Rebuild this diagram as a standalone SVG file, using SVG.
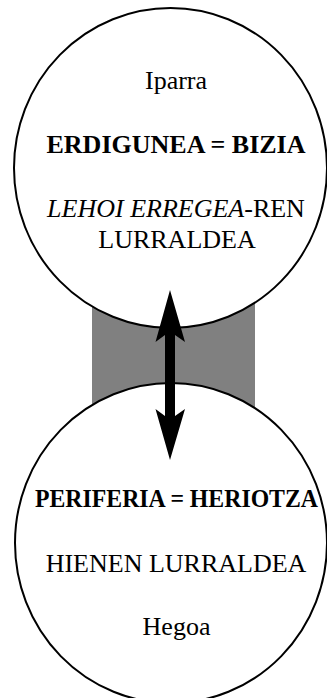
<svg xmlns="http://www.w3.org/2000/svg" width="327" height="698" viewBox="0 0 327 698">
<style>
.c{fill:#fff;stroke:#000;stroke-width:2}
text{font-family:'Liberation Serif','Times New Roman',serif;font-size:26px;fill:#000;text-anchor:middle}
.b{font-weight:bold}
.i{font-style:italic}
</style>
<rect id="band" x="92" y="300" width="163" height="112" fill="#808080"/>
<g id="north">
<ellipse class="c" cx="170.5" cy="168" rx="156.5" ry="160"/>
<text x="176" y="89">Iparra</text>
<text class="b" x="176" y="153">ERDIGUNEA = BIZIA</text>
<text x="176" y="217"><tspan class="i">LEHOI ERREGEA</tspan>-REN</text>
<text x="177" y="248">LURRALDEA</text>
</g>
<g id="south">
<ellipse class="c" cx="171" cy="543" rx="156" ry="160"/>
<text class="b" x="176.5" y="506.7" textLength="283" lengthAdjust="spacingAndGlyphs">PERIFERIA = HERIOTZA</text>
<text x="176" y="571.7">HIENEN LURRALDEA</text>
<text x="176.5" y="635">Hegoa</text>
</g>
<g id="connectors">
<path d="M170,290 L185,342 L175,335 L175,416 L185,409 L170,460 L155.5,409 L165,416 L165,335 L155.5,342 Z" fill="#000"/>
</g>
</svg>
